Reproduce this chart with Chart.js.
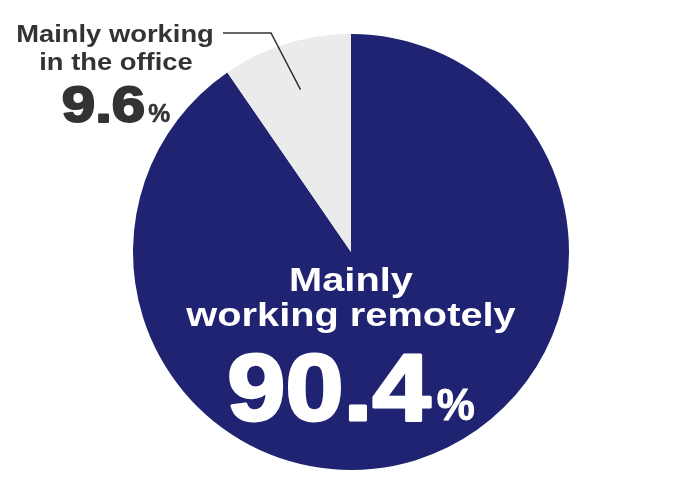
<!DOCTYPE html>
<html>
<head>
<meta charset="utf-8">
<script src="https://cdn.jsdelivr.net/npm/chart.js@4.4.0/dist/chart.umd.min.js"></script>
<style>
  html, body { margin: 0; padding: 0; background: #fff; }
  #wrap { width: 700px; height: 500px; }
</style>
</head>
<body>
<div id="wrap"><canvas id="pie"></canvas></div>
<script>
// chart data
var categories = ['Mainly working remotely', 'Mainly working in the office'];
var shares = [90.4, 9.6];
var sliceColors = ['#1f2372', '#ebebeb'];

var FONT = '"Liberation Sans", Arial, sans-serif';

// draws text stretched horizontally by sx, returns drawn width
function wideText( ctx, text, x, y, font, sx, align, heavy ) {
    ctx.font = font;
    var w = ctx.measureText( text ).width * sx;
    var left = align === 'center' ? x - w / 2 : x;
    ctx.save();
    ctx.translate( left, y );
    ctx.scale( sx, 1 );
    ctx.textAlign = 'left';
    ctx.textBaseline = 'alphabetic';
    if ( heavy ) {
        ctx.lineJoin = 'round';
        ctx.lineWidth = heavy;
        ctx.strokeStyle = ctx.fillStyle;
        ctx.strokeText( text, 0, 0 );
    }
    ctx.fillText( text, 0, 0 );
    ctx.restore();
    return w;
}

function measureWide( ctx, text, font, sx ) {
    ctx.font = font;
    return ctx.measureText( text ).width * sx;
}

var labelsPlugin = {
    id: 'pieLabels',
    afterDraw: function( chart ) {
        var ctx = chart.ctx;
        var arcs = chart.getDatasetMeta( 0 ).data;
        var big = arcs[ 0 ], small = arcs[ 1 ];
        var cx = big.x, cy = big.y, R = big.outerRadius;

        ctx.save();

        // inside label for the big slice
        ctx.fillStyle = '#fff';
        var f1 = 'bold 34px ' + FONT;
        wideText( ctx, 'Mainly', cx, cy + 39, f1, 1.17, 'center' );
        wideText( ctx, 'working remotely', cx, cy + 74, f1, 1.17, 'center' );
        var pct1 = shares[ 0 ].toFixed( 1 );
        var fBig = 'bold 95px ' + FONT, fPct = 'bold 45px ' + FONT;
        var w1 = measureWide( ctx, pct1, fBig, 1.1 );
        var w2 = measureWide( ctx, '%', fPct, 0.95 );
        var x0 = cx - ( w1 + w2 + 6 ) / 2;
        wideText( ctx, pct1, x0, cy + 168, fBig, 1.1, 'left', 3 );
        wideText( ctx, '%', x0 + w1 + 6, cy + 168, fPct, 0.95, 'left', 1 );

        // leader line for the small slice
        var mid = ( small.startAngle + small.endAngle ) / 2;
        var px = cx + Math.cos( mid ) * R * 0.78;
        var py = cy + Math.sin( mid ) * R * 0.78;
        ctx.strokeStyle = '#333';
        ctx.lineWidth = 1.5;
        ctx.beginPath();
        ctx.moveTo( px, py );
        ctx.lineTo( 271, 33 );
        ctx.lineTo( 223, 33 );
        ctx.stroke();

        // outside label
        ctx.fillStyle = '#333';
        var f2 = 'bold 24px ' + FONT;
        wideText( ctx, 'Mainly working', 115, 42, f2, 1.14, 'center' );
        wideText( ctx, 'in the office', 116, 70, f2, 1.14, 'center' );
        var pct2 = shares[ 1 ].toFixed( 1 );
        var fMid = 'bold 50px ' + FONT, fPct2 = 'bold 26px ' + FONT;
        var v1 = measureWide( ctx, pct2, fMid, 1.2 );
        var v2 = measureWide( ctx, '%', fPct2, 0.95 );
        var sx = 116 - ( v1 + v2 + 3 ) / 2;
        wideText( ctx, pct2, sx, 122, fMid, 1.2, 'left', 2 );
        wideText( ctx, '%', sx + v1 + 3, 122, fPct2, 0.95, 'left', 0.5 );
        ctx.restore();
    }
};

new Chart( document.getElementById( 'pie' ).getContext( '2d' ), {
    type: 'pie',
    data: {
        labels: categories,
        datasets: [ {
            data: shares,
            backgroundColor: sliceColors,
            borderWidth: 0
        } ]
    },
    options: {
        responsive: true,
        maintainAspectRatio: false,
        animation: false,
        layout: { padding: { top: 34, bottom: 30, left: 2, right: 0 } },
        plugins: {
            legend: { display: false },
            tooltip: { enabled: false }
        }
    },
    plugins: [ labelsPlugin ]
} );
</script>
</body>
</html>
